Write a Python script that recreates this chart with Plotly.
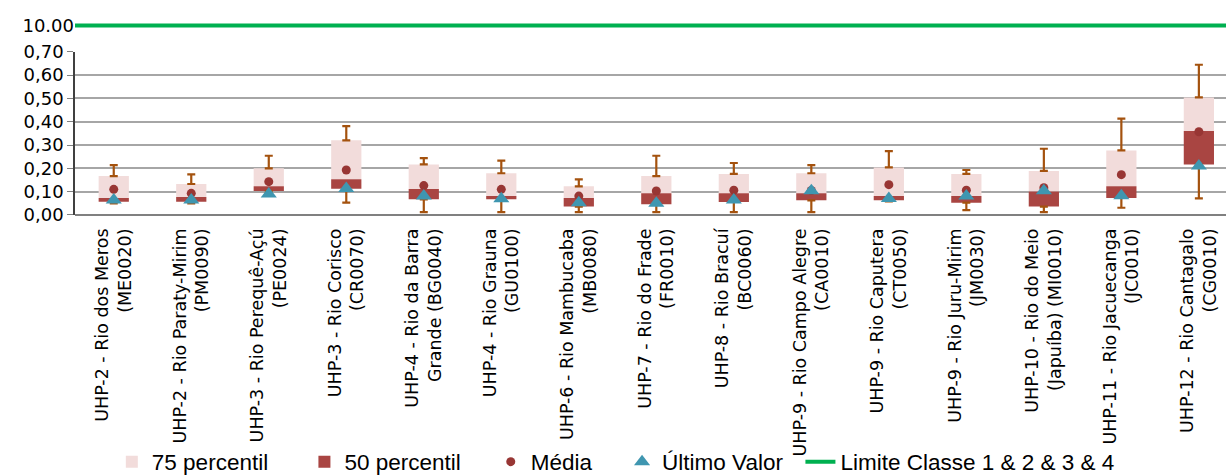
import plotly.graph_objects as go

categories = [
    "UHP-2 - Rio dos Meros<br>(ME0020)",
    "UHP-2 - Rio Paraty-Mirim<br>(PM0090)",
    "UHP-3 - Rio Perequê-Açú<br>(PE0024)",
    "UHP-3 - Rio Corisco<br>(CR0070)",
    "UHP-4 - Rio da Barra<br>Grande (BG0040)",
    "UHP-4 - Rio Grauna<br>(GU0100)",
    "UHP-6 - Rio Mambucaba<br>(MB0080)",
    "UHP-7 - Rio do Frade<br>(FR0010)",
    "UHP-8 - Rio Bracuí<br>(BC0060)",
    "UHP-9 - Rio Campo Alegre<br>(CA0010)",
    "UHP-9 - Rio Caputera<br>(CT0050)",
    "UHP-9 - Rio Juru-Mirim<br>(JM0030)",
    "UHP-10 - Rio do Meio<br>(Japuíba) (MI0010)",
    "UHP-11 - Rio Jacuecanga<br>(JC0010)",
    "UHP-12 - Rio Cantagalo<br>(CG0010)",
]

p25 = [0.057, 0.057, 0.103, 0.113, 0.067, 0.067, 0.036, 0.046, 0.056, 0.063, 0.063, 0.053, 0.036, 0.073, 0.216]
p50 = [0.073, 0.077, 0.123, 0.153, 0.111, 0.081, 0.073, 0.093, 0.093, 0.093, 0.081, 0.081, 0.101, 0.123, 0.360]
p75 = [0.167, 0.133, 0.200, 0.320, 0.217, 0.179, 0.123, 0.167, 0.176, 0.179, 0.204, 0.176, 0.189, 0.277, 0.504]
vmin = [0.050, 0.050, 0.095, 0.053, 0.012, 0.012, 0.012, 0.012, 0.012, 0.012, 0.058, 0.021, 0.012, 0.031, 0.071]
vmax = [0.214, 0.174, 0.254, 0.381, 0.244, 0.233, 0.153, 0.254, 0.223, 0.214, 0.274, 0.193, 0.284, 0.413, 0.644]
media = [0.110, 0.093, 0.143, 0.193, 0.126, 0.110, 0.081, 0.103, 0.106, 0.105, 0.130, 0.106, 0.117, 0.173, 0.357]
ultimo = [0.064, 0.064, 0.090, 0.114, 0.081, 0.070, 0.053, 0.050, 0.064, 0.104, 0.071, 0.081, 0.104, 0.083, 0.210]
limite = 10.0

ytick_vals = [0.0, 0.1, 0.2, 0.3, 0.4, 0.5, 0.6, 0.7]
ytick_text = ["0,00", "0,10", "0,20", "0,30", "0,40", "0,50", "0,60", "0,70"]

x = list(range(len(categories)))

PINK = "#F2DCDB"
DARK = "#A94542"
MEAN = "#983634"
TRI = "#3F96B0"
WHISK = "#A4520E"
GREEN = "#00B050"
NB = "\u00a0"

fig = go.Figure()

# upper whiskers (from 75th to max)
fig.add_trace(go.Scatter(
    x=x, y=p75, mode="markers", marker=dict(opacity=0, size=1),
    error_y=dict(type="data", symmetric=False,
                 array=[a - b for a, b in zip(vmax, p75)],
                 arrayminus=[0] * len(x), color=WHISK, thickness=2.2, width=4),
    showlegend=False, hoverinfo="skip"))
# lower whiskers (from 25th to min)
fig.add_trace(go.Scatter(
    x=x, y=p25, mode="markers", marker=dict(opacity=0, size=1),
    error_y=dict(type="data", symmetric=False,
                 array=[0] * len(x),
                 arrayminus=[a - b for a, b in zip(p25, vmin)],
                 color=WHISK, thickness=2.2, width=4),
    showlegend=False, hoverinfo="skip"))

fig.add_trace(go.Bar(
    x=x, y=[b - a for a, b in zip(p50, p75)], base=p50, width=0.39,
    marker=dict(color=PINK, line=dict(width=0)), name="75 percentil" + NB * 5))
fig.add_trace(go.Bar(
    x=x, y=[b - a for a, b in zip(p25, p50)], base=p25, width=0.39,
    marker=dict(color=DARK, line=dict(width=0)), name="50 percentil" + NB * 4))

fig.add_trace(go.Scatter(
    x=x, y=media, mode="markers", name="Média" + NB * 4,
    marker=dict(color=MEAN, size=9, symbol="circle")))
fig.add_trace(go.Scatter(
    x=x, y=ultimo, mode="markers", name="Último Valor" + NB * 2,
    marker=dict(color=TRI, size=14, symbol="triangle-up")))

fig.add_trace(go.Scatter(
    x=[-0.5, len(categories) - 0.5], y=[limite, limite], mode="lines",
    name="Limite Classe 1 & 2 & 3 & 4", yaxis="y2",
    line=dict(color=GREEN, width=4)))

fig.update_layout(
    width=1226, height=475,
    margin=dict(l=75, r=0, t=10, b=260, autoexpand=False),
    paper_bgcolor="white", plot_bgcolor="white",
    barmode="overlay",
    font=dict(family="DejaVu Sans", color="#000000"),
    xaxis=dict(
        range=[-0.5, 14.35], tickmode="array", tickvals=x, ticktext=categories,
        tickangle=-90, tickfont=dict(size=17.5, family="DejaVu Sans"),
        ticklabelstandoff=9,
        showgrid=False, zeroline=False, showline=False, ticks="",
        automargin=False),
    yaxis=dict(
        domain=[0, 0.7966], range=[0, 0.70], tickmode="array",
        tickvals=ytick_vals, ticktext=ytick_text,
        tickfont=dict(size=18, family="DejaVu Sans"),
        showgrid=True, gridcolor="#A6A6A6", gridwidth=1.5,
        zeroline=True, zerolinecolor="#808080", zerolinewidth=2,
        showline=True, linecolor="#404040", linewidth=1.5,
        ticks="outside", ticklen=6, tickcolor="#808080",
        automargin=False),
    yaxis2=dict(
        domain=[0.85, 1.0], range=[9.5, 10.5], tickmode="array",
        tickvals=[10], ticktext=["10.00"],
        tickfont=dict(size=18, family="DejaVu Sans"),
        showgrid=False, zeroline=False, showline=False, ticks="",
        anchor="x", automargin=False),
    legend=dict(
        orientation="h", x=0.032, xanchor="left", y=-1.10, yanchor="top",
        font=dict(size=22.5, family="Liberation Sans, Arial"),
        traceorder="normal", itemwidth=30, bgcolor="rgba(0,0,0,0)"),
    showlegend=True,
)

fig.write_html(
    "out.html",
    config={"displayModeBar": False},
    post_script="document.body.style.margin='0';document.body.style.overflow='hidden';",
)
